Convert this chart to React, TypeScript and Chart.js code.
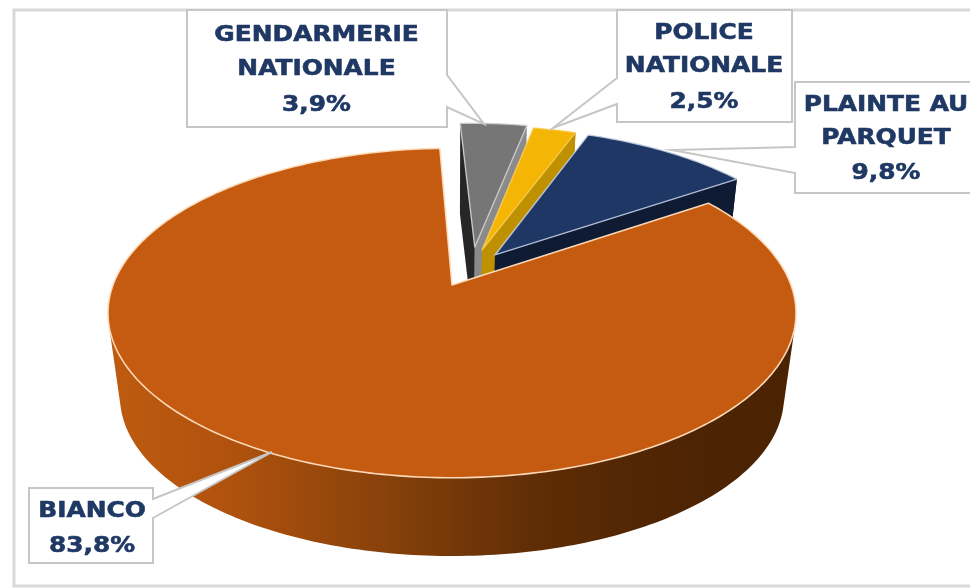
import React, { useEffect, useRef } from "react";
import { Chart, registerables } from "chart.js";

Chart.register(...registerables);

// Data
const categories: string[][] = [
  ["GENDARMERIE", "NATIONALE"],
  ["POLICE", "NATIONALE"],
  ["PLAINTE AU", "PARQUET"],
  ["BIANCO"],
];
const shares: number[] = [3.9, 2.5, 9.8, 83.8];
const faceColors: string[] = ["#767676", "#F4B505", "#1E3765", "#C55A11"];
const ROTATION_DEG = -2.4;

// Style / layout of the perspective pie
const W = 970;
const H_PAGE = 588;
const CX = 452;
const CY = 285;
const RX = 339;
const RY = 160;
const K = 0.17;
const DEPTH = 85;
const BOTTOM_SCALE = 0.965;
const explode = [
  { x: 0.07, y: -0.248, r: 0.972 },
  { x: 0.092, y: -0.227, r: 0.972 },
  { x: 0.131, y: -0.194, r: 0.985 },
  { x: 0, y: 0, r: 1 },
];
const wallStart = ["#262626", "#BF9000", "#0E1B33", "#5a2a06"];
const wallEnd = ["#8a8a8a", "#BF9000", "#0E1B33", "#5a2a06"];
const rimLine = ["rgba(205,205,205,0.9)", "rgba(255,215,110,0.7)", "rgba(205,215,235,0.85)", "rgba(255,222,190,0.95)"];
const boxes = [
  { x: 187, y: 10, w: 260, h: 117, p1: 75, p2: 107, side: "r", tx: 484, ty: 124, lines: [35, 69, 105], cx: 316.5 },
  { x: 617, y: 10, w: 175, h: 112, p1: 78, p2: 104, side: "l", tx: 553, ty: 128, lines: [33, 66, 102], cx: 704 },
  { x: 795, y: 82, w: 178, h: 111, p1: 147, p2: 173, side: "l", tx: 672, ty: 150, lines: [105, 138, 173], cx: 886 },
  { x: 29, y: 488, w: 124, h: 75, p1: 499, p2: 518, side: "r", tx: 272, ty: 452, lines: [511, 546], cx: 92 },
];

type Pt = { x: number; y: number };

function project(u: number, v: number, bottom: boolean): Pt {
  const w = 1 / (1 - K * v);
  const s = bottom ? BOTTOM_SCALE : 1;
  return { x: CX + s * RX * u * w, y: CY + (bottom ? DEPTH : 0) + s * RY * v * w };
}

function arcPoints(i: number, a0: number, a1: number, bottom: boolean) {
  const e = explode[i];
  const n = Math.max(4, Math.ceil(((a1 - a0) * 180) / Math.PI));
  const pts: Pt[] = [];
  for (let j = 0; j <= n; j++) {
    const a = a0 + ((a1 - a0) * j) / n;
    pts.push(project(e.x + e.r * Math.cos(a), e.y + e.r * Math.sin(a), bottom));
  }
  return pts;
}

function trace(ctx: CanvasRenderingContext2D, pts: Pt[]) {
  ctx.beginPath();
  pts.forEach((p, i) => (i ? ctx.lineTo(p.x, p.y) : ctx.moveTo(p.x, p.y)));
  ctx.closePath();
}

// One single path made of same-handed quads, so overlaps cannot cancel and no seams appear.
function fillStrip(ctx: CanvasRenderingContext2D, top: Pt[], bot: Pt[], paint: string | CanvasGradient) {
  ctx.beginPath();
  for (let j = 0; j < top.length - 1; j++) {
    let q = [top[j], top[j + 1], bot[j + 1], bot[j]];
    let area = 0;
    q.forEach((p, m) => {
      const n = q[(m + 1) % 4];
      area += p.x * n.y - n.x * p.y;
    });
    if (area < 0) q = q.reverse();
    q.forEach((p, m) => (m ? ctx.lineTo(p.x, p.y) : ctx.moveTo(p.x, p.y)));
    ctx.closePath();
  }
  ctx.fillStyle = paint;
  ctx.fill("nonzero");
}

const pie3d = {
  id: "pie3d",
  beforeDraw(chart: any) {
    const ctx: CanvasRenderingContext2D = chart.ctx;
    ctx.save();
    ctx.fillStyle = "#ffffff";
    ctx.fillRect(0, 0, W, H_PAGE);
    ctx.strokeStyle = "#d9d9d9";
    ctx.lineWidth = 3;
    ctx.beginPath();
    ctx.moveTo(W, 10);
    ctx.lineTo(14, 10);
    ctx.lineTo(14, 586);
    ctx.lineTo(W, 586);
    ctx.stroke();
    ctx.restore();
  },
  beforeDatasetDraw(chart: any, args: any) {
    const ctx: CanvasRenderingContext2D = chart.ctx;
    const meta = args.meta;
    ctx.save();
    meta.data.forEach((arc: any, i: number) => {
      const a0 = arc.startAngle;
      const a1 = arc.endAngle;
      const e = explode[i];
      const apexT = project(e.x, e.y, false);
      const apexB = project(e.x, e.y, true);
      const topArc = arcPoints(i, a0, a1, false);
      const botArc = arcPoints(i, a0, a1, true);

      if (i !== 3) {
        if (i !== 0) fillStrip(ctx, topArc, botArc, wallEnd[i]);
        trace(ctx, [apexT, topArc[topArc.length - 1], botArc[botArc.length - 1], apexB]);
        ctx.fillStyle = wallEnd[i];
        ctx.fill();
        trace(ctx, [apexT, topArc[0], botArc[0], apexB]);
        ctx.fillStyle = wallStart[i];
        ctx.fill();
      } else {
        const g = ctx.createLinearGradient(108, 0, 797, 0);
        g.addColorStop(0, "#BE5B10");
        g.addColorStop(0.18, "#B0520E");
        g.addColorStop(0.42, "#84400A");
        g.addColorStop(0.62, "#5F2D06");
        g.addColorStop(0.8, "#4F2504");
        g.addColorStop(1, "#4A2303");
        fillStrip(ctx, topArc, botArc, g);
      }

      trace(ctx, [apexT, ...topArc]);
      ctx.fillStyle = arc.options.backgroundColor;
      ctx.fill();
      ctx.strokeStyle = rimLine[i];
      ctx.lineWidth = i === 3 ? 1.6 : 1.4;
      ctx.lineJoin = "round";
      ctx.stroke();
    });
    ctx.restore();
    return false;
  },
  afterDraw(chart: any) {
    const ctx: CanvasRenderingContext2D = chart.ctx;
    const values: number[] = chart.data.datasets[0].data;
    const labels: string[][] = chart.data.labels;
    ctx.save();
    boxes.forEach((b, i) => {
      const xe = b.side === "r" ? b.x + b.w : b.x;
      ctx.beginPath();
      ctx.moveTo(b.x, b.y);
      ctx.lineTo(b.x + b.w, b.y);
      if (b.side === "r") {
        ctx.lineTo(xe, b.p1);
        ctx.lineTo(b.tx, b.ty);
        ctx.lineTo(xe, b.p2);
      }
      ctx.lineTo(b.x + b.w, b.y + b.h);
      ctx.lineTo(b.x, b.y + b.h);
      if (b.side === "l") {
        ctx.lineTo(xe, b.p2);
        ctx.lineTo(b.tx, b.ty);
        ctx.lineTo(xe, b.p1);
      }
      ctx.closePath();
      ctx.fillStyle = "#ffffff";
      ctx.fill();
      ctx.strokeStyle = "#c6c6c6";
      ctx.lineWidth = 2;
      ctx.stroke();

      const lines = [...labels[i], values[i].toFixed(1).replace(".", ",") + "%"];
      ctx.fillStyle = "#1F3864";
      ctx.strokeStyle = "#1F3864";
      ctx.lineWidth = 0.6;
      ctx.font = 'bold 22px "DejaVu Sans"';
      ctx.textAlign = "center";
      ctx.textBaseline = "middle";
      lines.forEach((t, j) => {
        ctx.save();
        ctx.translate(b.cx, b.lines[j]);
        ctx.scale(1.13, 1);
        ctx.fillText(t, 0, 0);
        ctx.strokeText(t, 0, 0);
        ctx.restore();
      });
    });
    ctx.restore();
  },
};

export default function App() {
  const ref = useRef<HTMLCanvasElement | null>(null);
  useEffect(() => {
    document.body.style.margin = "0";
    const chart = new Chart(ref.current as HTMLCanvasElement, {
      type: "pie",
      data: {
        labels: categories as any,
        datasets: [{ data: shares, backgroundColor: faceColors, borderWidth: 0 }],
      },
      options: {
        responsive: false,
        animation: false,
        rotation: ROTATION_DEG,
        plugins: { legend: { display: false }, tooltip: { enabled: false } },
      },
      plugins: [pie3d as any],
    });
    return () => chart.destroy();
  }, []);
  return (
    <canvas
      ref={ref}
      width={W}
      height={H_PAGE}
      style={{ display: "block", width: W, height: H_PAGE, filter: "blur(0.7px)" }}
    />
  );
}
